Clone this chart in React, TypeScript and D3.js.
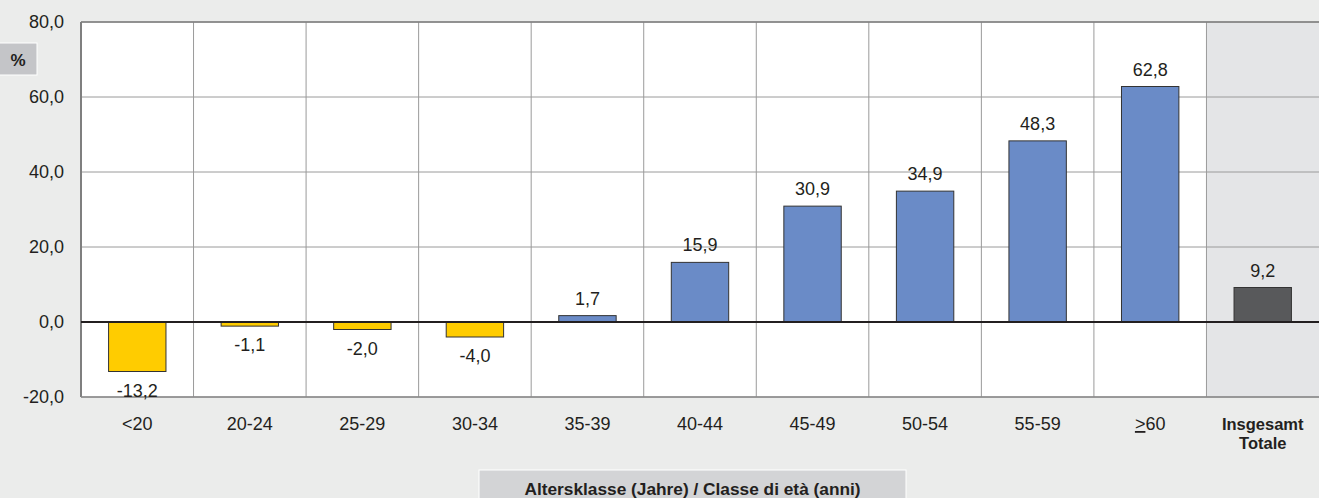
import React from "react";
import * as d3 from "d3";

const categories = ["<20", "20-24", "25-29", "30-34", "35-39", "40-44", "45-49", "50-54", "55-59", ">60", "Insgesamt|Totale"];
const values = [-13.2, -1.1, -2.0, -4.0, 1.7, 15.9, 30.9, 34.9, 48.3, 62.8, 9.2];
const yTicks = [-20, 0, 20, 40, 60, 80];
const yLabel = "%";
const xTitle = "Altersklasse (Jahre) / Classe di età (anni)";

const W = 1319;
const H = 498;
const left = 81;
const right = 1319;
const top = 22;
const bottom = 397;
const font = "'Liberation Sans', Arial, sans-serif";

const fmt = (v: number) => v.toFixed(1).replace(".", ",");

export default function App() {
  const x = d3.scaleBand<string>().domain(categories).range([left, right]).paddingInner(0).paddingOuter(0);
  const y = d3.scaleLinear().domain([-20, 80]).range([bottom, top]);
  const bw = x.bandwidth() * 0.51;
  const lastCat = categories[categories.length - 1];

  const colorFor = (v: number, i: number) =>
    i === categories.length - 1 ? "#58595b" : v < 0 ? "#ffcc00" : "#6a8bc7";

  return (
    <svg width={W} height={H} style={{ position: "absolute", left: 0, top: 0, display: "block" }}>
      <rect x={0} y={0} width={W} height={H} fill="#ebeceb" />
      <rect x={left} y={top} width={right - left} height={bottom - top} fill="#ffffff" />
      <rect x={x(lastCat)!} y={top} width={x.bandwidth()} height={bottom - top} fill="#e4e5e7" />
      {/* horizontal grid */}
      {yTicks.map((t) => (
        <line key={"g" + t} x1={left} x2={right} y1={y(t)} y2={y(t)} stroke="#9a9a9a" strokeWidth={1} />
      ))}
      {/* vertical separators */}
      {categories.slice(1).map((c) => (
        <line key={"v" + c} x1={x(c)!} x2={x(c)!} y1={top} y2={bottom} stroke="#9a9a9a" strokeWidth={1} />
      ))}
      {/* top & left border */}
      <line x1={left} x2={right} y1={top} y2={top} stroke="#7f7f7f" strokeWidth={1.5} />
      <line x1={left} x2={left} y1={top} y2={bottom} stroke="#7f7f7f" strokeWidth={2} />
      <line x1={left} x2={right} y1={bottom} y2={bottom} stroke="#8a8a8a" strokeWidth={1.5} />
      {/* bars */}
      {values.map((v, i) => {
        const c = categories[i];
        const cx = x(c)! + x.bandwidth() / 2;
        const y0 = y(Math.max(0, v));
        const y1 = y(Math.min(0, v));
        return (
          <g key={"b" + i}>
            <rect x={cx - bw / 2} y={y0} width={bw} height={y1 - y0} fill={colorFor(v, i)} stroke="#333333" strokeWidth={1} />
            <text
              x={cx}
              y={v >= 0 ? y0 - 11 : y1 + 25}
              textAnchor="middle"
              fontFamily={font}
              fontSize={18}
              fill="#231f20"
            >
              {fmt(v)}
            </text>
          </g>
        );
      })}
      {/* zero line */}
      <line x1={left} x2={right} y1={y(0)} y2={y(0)} stroke="#231f20" strokeWidth={2} />
      {/* y tick labels */}
      {yTicks.map((t) => (
        <text key={"t" + t} x={64} y={y(t) + 6} textAnchor="end" fontFamily={font} fontSize={18} fill="#231f20">
          {fmt(t)}
        </text>
      ))}
      {/* y label box */}
      <rect x={-1} y={43} width={38} height={32} fill="#c4c5c8" stroke="#ffffff" strokeWidth={1} />
      <text x={18} y={66} textAnchor="middle" fontFamily={font} fontSize={17} fontWeight="bold" fill="#231f20">
        {yLabel}
      </text>
      {/* x category labels */}
      {categories.map((c, i) => {
        const cx = x(c)! + x.bandwidth() / 2;
        if (i === categories.length - 1) {
          const parts = c.split("|");
          return (
            <text key={"x" + i} x={cx} textAnchor="middle" fontFamily={font} fontSize={16.5} fontWeight="bold" fill="#231f20">
              <tspan x={cx} y={430}>{parts[0]}</tspan>
              <tspan x={cx} y={449}>{parts[1]}</tspan>
            </text>
          );
        }
        if (c.startsWith(">")) {
          return (
            <text key={"x" + i} x={cx} y={430} textAnchor="middle" fontFamily={font} fontSize={18} fill="#231f20">
              <tspan textDecoration="underline">{">"}</tspan>
              <tspan>{c.slice(1)}</tspan>
            </text>
          );
        }
        return (
          <text key={"x" + i} x={cx} y={430} textAnchor="middle" fontFamily={font} fontSize={18} fill="#231f20">
            {c}
          </text>
        );
      })}
      {/* x title box */}
      <rect x={479} y={470} width={427} height={32} fill="#d3d4d6" stroke="#ffffff" strokeWidth={1} />
      <text x={692.5} y={494.5} textAnchor="middle" fontFamily={font} fontSize={17.3} fontWeight="bold" fill="#231f20">
        {xTitle}
      </text>
    </svg>
  );
}
